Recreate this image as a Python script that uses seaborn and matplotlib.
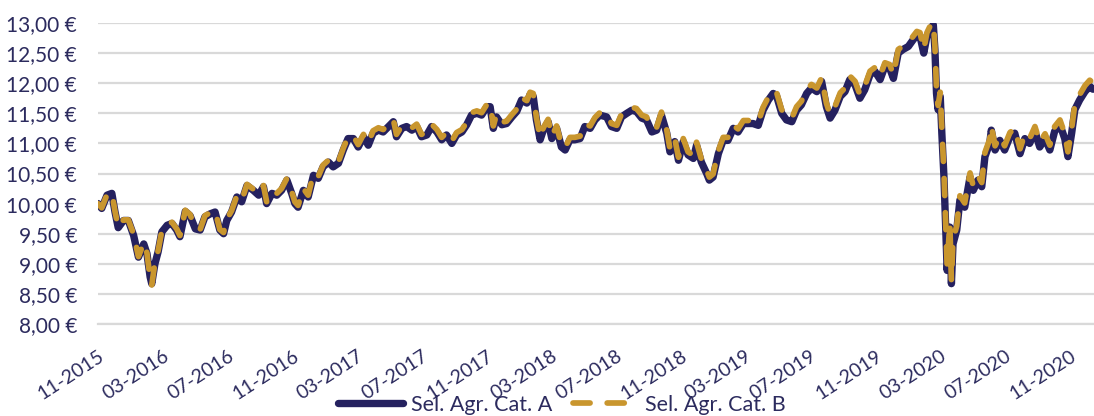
import matplotlib
matplotlib.use("Agg")
import matplotlib.pyplot as plt
import matplotlib.dates as mdates
from matplotlib.ticker import FuncFormatter, MultipleLocator
import seaborn as sns
import pandas as pd

dates = [
    "2015-11-01", "2015-11-08", "2015-11-18", "2015-11-27", "2015-12-03", "2015-12-09", "2015-12-19", "2015-12-28",
    "2016-01-07", "2016-01-16", "2016-01-26", "2016-02-01", "2016-02-07", "2016-02-10", "2016-02-16", "2016-02-22",
    "2016-02-29", "2016-03-10", "2016-03-19", "2016-03-28", "2016-04-03", "2016-04-13", "2016-04-22", "2016-05-02",
    "2016-05-11", "2016-05-20", "2016-05-30", "2016-06-08", "2016-06-17", "2016-06-24", "2016-06-30", "2016-07-09",
    "2016-07-19", "2016-07-28", "2016-08-07", "2016-08-19", "2016-08-29", "2016-09-07", "2016-09-13", "2016-09-23",
    "2016-10-02", "2016-10-11", "2016-10-21", "2016-10-30", "2016-11-05", "2016-11-11", "2016-11-21", "2016-11-30",
    "2016-12-10", "2016-12-19", "2016-12-28", "2017-01-07", "2017-01-16", "2017-01-26", "2017-02-04", "2017-02-13",
    "2017-02-23", "2017-03-04", "2017-03-14", "2017-03-23", "2017-04-01", "2017-04-11", "2017-04-20", "2017-04-30",
    "2017-05-09", "2017-05-15", "2017-05-25", "2017-06-03", "2017-06-13", "2017-06-22", "2017-07-01", "2017-07-11",
    "2017-07-20", "2017-07-30", "2017-08-08", "2017-08-17", "2017-08-27", "2017-09-05", "2017-09-15", "2017-09-24",
    "2017-10-03", "2017-10-13", "2017-10-22", "2017-11-01", "2017-11-07", "2017-11-13", "2017-11-19", "2017-11-29",
    "2017-12-08", "2017-12-18", "2017-12-27", "2018-01-05", "2018-01-15", "2018-01-21", "2018-01-27", "2018-02-02",
    "2018-02-09", "2018-02-15", "2018-02-24", "2018-03-03", "2018-03-12", "2018-03-21", "2018-03-28", "2018-04-06",
    "2018-04-15", "2018-04-25", "2018-05-04", "2018-05-14", "2018-05-23", "2018-06-01", "2018-06-14", "2018-06-23",
    "2018-07-03", "2018-07-12", "2018-07-22", "2018-07-31", "2018-08-09", "2018-08-19", "2018-08-28", "2018-09-07",
    "2018-09-16", "2018-09-25", "2018-10-05", "2018-10-11", "2018-10-20", "2018-10-27", "2018-11-05", "2018-11-14",
    "2018-11-24", "2018-11-30", "2018-12-09", "2018-12-19", "2018-12-24", "2018-12-31", "2019-01-10", "2019-01-19",
    "2019-01-28", "2019-02-07", "2019-02-16", "2019-02-26", "2019-03-07", "2019-03-16", "2019-03-26", "2019-04-04",
    "2019-04-14", "2019-04-23", "2019-04-29", "2019-05-09", "2019-05-18", "2019-05-28", "2019-06-06", "2019-06-15",
    "2019-06-25", "2019-07-04", "2019-07-14", "2019-07-23", "2019-08-01", "2019-08-08", "2019-08-17", "2019-08-27",
    "2019-09-05", "2019-09-14", "2019-09-24", "2019-10-03", "2019-10-12", "2019-10-22", "2019-10-31", "2019-11-10",
    "2019-11-19", "2019-11-28", "2019-12-05", "2019-12-14", "2019-12-23", "2020-01-02", "2020-01-11", "2020-01-18",
    "2020-01-24", "2020-01-31", "2020-02-06", "2020-02-12", "2020-02-18", "2020-02-21", "2020-02-24", "2020-02-27",
    "2020-03-02", "2020-03-05", "2020-03-09", "2020-03-12", "2020-03-15", "2020-03-20", "2020-03-23", "2020-03-26",
    "2020-04-02", "2020-04-08", "2020-04-17", "2020-04-27", "2020-05-03", "2020-05-12", "2020-05-19", "2020-05-25",
    "2020-06-03", "2020-06-06", "2020-06-13", "2020-06-22", "2020-07-01", "2020-07-11", "2020-07-20", "2020-07-30",
    "2020-08-08", "2020-08-17", "2020-08-27", "2020-09-05", "2020-09-15", "2020-09-24", "2020-10-03", "2020-10-13",
    "2020-10-22", "2020-10-28", "2020-11-04", "2020-11-10", "2020-11-19", "2020-11-29", "2020-12-08", "2020-12-14",
]

cat_a = [
    10.00, 9.92, 10.14, 10.17, 9.86, 9.60, 9.72, 9.72, 9.47, 9.11, 9.33, 9.17, 8.78, 8.67, 9.00, 9.20,
    9.53, 9.64, 9.67, 9.56, 9.45, 9.87, 9.80, 9.58, 9.56, 9.78, 9.83, 9.86, 9.56, 9.50, 9.72, 9.86,
    10.11, 10.03, 10.30, 10.22, 10.14, 10.28, 10.00, 10.17, 10.14, 10.22, 10.39, 10.17, 10.00, 9.94,
    10.22, 10.11, 10.47, 10.42, 10.61, 10.69, 10.61, 10.67, 10.89, 11.08, 11.08, 10.94, 11.11, 10.97,
    11.17, 11.22, 11.19, 11.28, 11.36, 11.11, 11.25, 11.28, 11.22, 11.28, 11.11, 11.14, 11.28, 11.19,
    11.06, 11.14, 11.00, 11.14, 11.19, 11.31, 11.47, 11.50, 11.47, 11.61, 11.61, 11.25, 11.44, 11.31,
    11.33, 11.44, 11.53, 11.72, 11.67, 11.81, 11.78, 11.39, 11.06, 11.22, 11.36, 11.08, 11.25, 10.94,
    10.89, 11.06, 11.06, 11.08, 11.28, 11.25, 11.39, 11.47, 11.44, 11.28, 11.25, 11.44, 11.50, 11.55,
    11.53, 11.42, 11.39, 11.19, 11.22, 11.47, 11.17, 10.86, 11.03, 10.72, 11.03, 10.81, 10.75, 10.97,
    10.69, 10.50, 10.39, 10.44, 10.83, 11.05, 11.05, 11.25, 11.19, 11.33, 11.33, 11.33, 11.30, 11.55,
    11.72, 11.83, 11.80, 11.50, 11.39, 11.36, 11.55, 11.64, 11.83, 11.92, 11.86, 12.03, 11.61, 11.42,
    11.55, 11.78, 11.86, 12.06, 11.97, 11.75, 11.89, 12.14, 12.20, 12.06, 12.28, 12.25, 12.08, 12.50,
    12.56, 12.61, 12.72, 12.80, 12.78, 12.50, 12.78, 12.89, 12.97, 12.56, 11.83, 11.56, 11.78, 11.17,
    10.44, 9.67, 8.89, 9.61, 8.67, 9.33, 9.56, 10.06, 9.94, 10.44, 10.22, 10.39, 10.28, 10.78,
    11.00, 11.22, 10.89, 11.05, 10.89, 11.11, 11.17, 10.83, 11.08, 11.00, 11.20, 10.94, 11.08, 10.89,
    11.20, 11.31, 11.08, 10.78, 11.17, 11.56, 11.72, 11.86, 11.95, 11.90,
]

cat_b = [
    10.00, 9.93, 10.15, 10.18, 9.87, 9.61, 9.73, 9.73, 9.49, 9.12, 9.35, 9.18, 8.76, 8.64, 9.02, 9.22,
    9.55, 9.66, 9.69, 9.58, 9.47, 9.89, 9.82, 9.60, 9.57, 9.80, 9.85, 9.88, 9.57, 9.52, 9.74, 9.88,
    10.13, 10.05, 10.32, 10.24, 10.16, 10.30, 10.03, 10.20, 10.17, 10.25, 10.42, 10.20, 10.03, 9.97,
    10.25, 10.14, 10.50, 10.45, 10.64, 10.72, 10.64, 10.70, 10.92, 11.11, 11.12, 10.98, 11.15, 11.01,
    11.21, 11.26, 11.23, 11.32, 11.40, 11.15, 11.29, 11.32, 11.26, 11.32, 11.15, 11.18, 11.32, 11.23,
    11.10, 11.18, 11.04, 11.18, 11.23, 11.35, 11.51, 11.54, 11.51, 11.65, 11.66, 11.29, 11.48, 11.35,
    11.37, 11.48, 11.57, 11.76, 11.71, 11.85, 11.83, 11.43, 11.10, 11.26, 11.40, 11.12, 11.29, 10.98,
    10.93, 11.10, 11.10, 11.12, 11.32, 11.29, 11.43, 11.51, 11.49, 11.33, 11.30, 11.49, 11.55, 11.60,
    11.58, 11.47, 11.44, 11.24, 11.27, 11.52, 11.22, 10.91, 11.08, 10.77, 11.08, 10.86, 10.80, 11.02,
    10.74, 10.55, 10.44, 10.49, 10.88, 11.10, 11.10, 11.30, 11.24, 11.38, 11.38, 11.38, 11.35, 11.60,
    11.77, 11.88, 11.86, 11.56, 11.45, 11.42, 11.61, 11.70, 11.89, 11.98, 11.92, 12.09, 11.67, 11.48,
    11.61, 11.84, 11.92, 12.12, 12.03, 11.81, 11.95, 12.20, 12.26, 12.12, 12.34, 12.31, 12.14, 12.56,
    12.62, 12.67, 12.78, 12.86, 12.84, 12.56, 12.84, 12.95, 13.00, 12.62, 11.90, 11.63, 11.85, 11.24,
    10.51, 9.74, 8.96, 9.68, 8.72, 9.40, 9.63, 10.13, 10.01, 10.51, 10.29, 10.46, 10.35, 10.85,
    11.07, 11.29, 10.96, 11.12, 10.96, 11.18, 11.25, 10.91, 11.16, 11.08, 11.28, 11.02, 11.16, 10.97,
    11.28, 11.39, 11.16, 10.86, 11.25, 11.65, 11.81, 11.96, 12.05, 12.01,
]

series_names = ["Sel. Agr. Cat. A", "Sel. Agr. Cat. B"]
y_min, y_max, y_step = 8.0, 13.0, 0.5
x_start, x_end = "2015-11-01", "2020-12-16"

NAVY = "#25215f"
GOLD = "#c9962e"
TEXT = "#2c2b5e"
GRID = "#d9d9d9"

sns.set_style("white")
plt.rcParams["font.family"] = ["Lato", "DejaVu Sans"]

df = pd.DataFrame({"fecha": pd.to_datetime(dates), "A": cat_a, "B": cat_b})

fig = plt.figure(figsize=(10.94, 4.16), dpi=100)
ax = fig.add_axes([98 / 1094, 1 - 324 / 416, (1094 - 98) / 1094, (324 - 23) / 416])

sns.lineplot(data=df, x="fecha", y="A", ax=ax, color=NAVY, linewidth=5.3,
             label=series_names[0], solid_joinstyle="round", solid_capstyle="round")
sns.lineplot(data=df, x="fecha", y="B", ax=ax, color=GOLD, linewidth=4.1,
             label=series_names[1])
lb = ax.lines[-1]
lb.set_dashes([3.0, 3.0])
lb.set_dash_capstyle("round")
lb.set_dash_joinstyle("round")

ax.set_ylim(y_min, y_max)
ax.set_xlim(pd.Timestamp(x_start), pd.Timestamp(x_end))
ax.yaxis.set_major_locator(MultipleLocator(y_step))
ax.yaxis.set_major_formatter(FuncFormatter(lambda v, p: f"{v:.2f}".replace(".", ",") + " €"))
ax.xaxis.set_major_locator(mdates.MonthLocator(bymonth=[3, 7, 11]))
ax.xaxis.set_major_formatter(mdates.DateFormatter("%m-%Y"))

ax.grid(axis="y", color=GRID, linewidth=1.6)
ax.grid(axis="x", visible=False)
ax.set_axisbelow(True)
for s in ["left", "right", "top"]:
    ax.spines[s].set_visible(False)
ax.spines["bottom"].set_color(GRID)
ax.spines["bottom"].set_linewidth(1.6)

ax.tick_params(axis="y", length=0, pad=15, labelsize=15, labelcolor=TEXT)
ax.tick_params(axis="x", length=5, width=1.4, color=GRID, direction="out", pad=12,
               labelsize=14, labelcolor=TEXT)
for t in ax.get_xticklabels():
    t.set_rotation(33)
    t.set_ha("right")
    t.set_va("top")
    t.set_rotation_mode("anchor")

ax.set_xlabel("")
ax.set_ylabel("")

handles, labels = ax.get_legend_handles_labels()
ax.get_legend().remove()
fig.legend(handles, labels, loc="center", bbox_to_anchor=(0.514, 1 - 405 / 416), ncol=2,
           frameon=False, fontsize=15.5, handlelength=3.0, handletextpad=0.35,
           columnspacing=1.0, labelcolor=TEXT, borderaxespad=0, borderpad=0)

fig.savefig("out.png", dpi=100)
